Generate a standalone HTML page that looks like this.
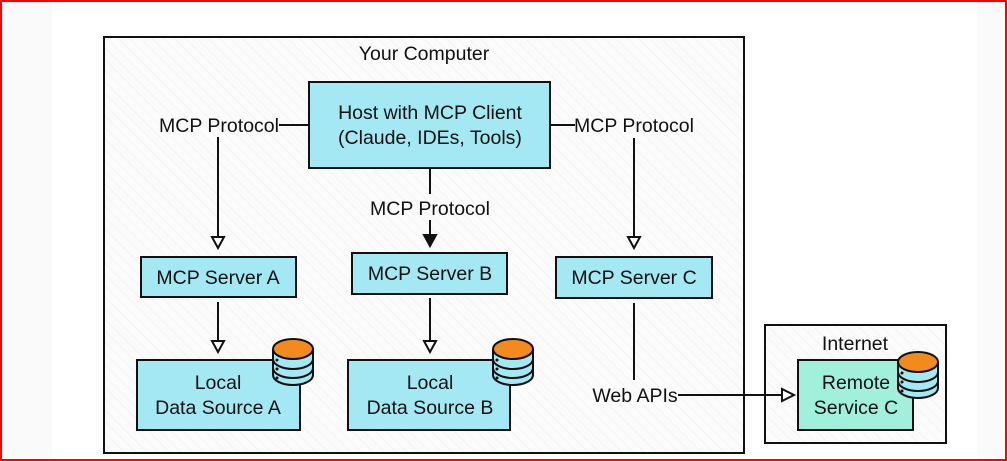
<!DOCTYPE html>
<html><head><meta charset="utf-8"><style>
html,body{margin:0;padding:0;background:#fff;}
svg{display:block;}
text{font-family:"Liberation Sans","DejaVu Sans",sans-serif;font-size:19.5px;fill:#111;}
</style></head><body>
<svg width="1007" height="461" viewBox="0 0 1007 461" xmlns="http://www.w3.org/2000/svg">
<defs>
<pattern id="h" width="8" height="8" patternUnits="userSpaceOnUse" patternTransform="rotate(-45)">
<rect width="8" height="8" fill="#fbfbfb"/><line x1="0" y1="0" x2="0" y2="8" stroke="#ececec" stroke-width="1"/>
</pattern>
<g id="db">
<path d="M0,10 L0,36 A20,10 0 0 0 40,36 L40,10" fill="#a3e8f2" stroke="#111" stroke-width="2"/>
<path d="M0,20 A20,10 0 0 0 40,20 M0,29 A20,10 0 0 0 40,29" fill="none" stroke="#111" stroke-width="2"/>
<ellipse cx="20" cy="10" rx="20" ry="10" fill="#f28a1e" stroke="#111" stroke-width="2"/>
<circle cx="4" cy="21" r="1.5" fill="#111"/><circle cx="4" cy="30" r="1.5" fill="#111"/><circle cx="4" cy="39" r="1.5" fill="#111"/>
</g>
</defs>
<rect x="0" y="0" width="1007" height="461" fill="#fff"/>
<rect x="0" y="0" width="52" height="461" fill="#fafafa"/>
<rect x="977" y="0" width="30" height="461" fill="#fafafa"/>
<rect x="1" y="1" width="1005" height="459" fill="none" stroke="#f00" stroke-width="2"/>

<rect x="104" y="37" width="640" height="416" fill="url(#h)" stroke="#111" stroke-width="2"/>
<text x="424" y="60" text-anchor="middle">Your Computer</text>

<rect x="309" y="82" width="241" height="86" fill="#a3e8f2" stroke="#111" stroke-width="2"/>
<text x="430" y="119" text-anchor="middle">Host with MCP Client</text>
<text x="430" y="144" text-anchor="middle">(Claude, IDEs, Tools)</text>

<rect x="765" y="325" width="181" height="118" fill="url(#h)" stroke="#111" stroke-width="2"/>

<g stroke="#111" stroke-width="2" fill="none">
<line x1="279" y1="125" x2="309" y2="125"/>
<line x1="218" y1="137" x2="218" y2="237"/>
<line x1="550" y1="125" x2="575" y2="125"/>
<line x1="634" y1="138" x2="634" y2="237"/>
<line x1="430" y1="168" x2="430" y2="194"/>
<line x1="430" y1="220" x2="430" y2="236"/>
<line x1="218" y1="302" x2="218" y2="341"/>
<line x1="430" y1="298" x2="430" y2="341"/>
<line x1="634" y1="303" x2="634" y2="380"/>
<line x1="678" y1="395" x2="782" y2="395"/>
</g>
<g stroke="#111" stroke-width="2" fill="#fff">
<path d="M212,237 L224,237 L218,248 Z"/>
<path d="M628,237 L640,237 L634,248 Z"/>
<path d="M212,341 L224,341 L218,352 Z"/>
<path d="M424,341 L436,341 L430,352 Z"/>
<path d="M782,389 L782,401 L794,395 Z"/>
<path d="M424,235 L436,235 L430,246 Z" fill="#111"/>
</g>
<text x="219" y="132" text-anchor="middle">MCP Protocol</text>
<text x="634" y="132" text-anchor="middle">MCP Protocol</text>
<text x="430" y="215" text-anchor="middle">MCP Protocol</text>

<rect x="141" y="257" width="155" height="40" fill="#a3e8f2" stroke="#111" stroke-width="2"/>
<text x="218" y="284" text-anchor="middle">MCP Server A</text>
<rect x="352" y="253" width="155" height="41" fill="#a3e8f2" stroke="#111" stroke-width="2"/>
<text x="430" y="280" text-anchor="middle">MCP Server B</text>
<rect x="556" y="257" width="156" height="41" fill="#a3e8f2" stroke="#111" stroke-width="2"/>
<text x="634" y="284" text-anchor="middle">MCP Server C</text>

<rect x="137" y="360" width="163" height="70" fill="#a3e8f2" stroke="#111" stroke-width="2"/>
<text x="218" y="389" text-anchor="middle">Local</text>
<text x="218" y="414" text-anchor="middle">Data Source A</text>
<use href="#db" x="273" y="339"/>
<rect x="348" y="360" width="162" height="70" fill="#a3e8f2" stroke="#111" stroke-width="2"/>
<text x="430" y="389" text-anchor="middle">Local</text>
<text x="430" y="414" text-anchor="middle">Data Source B</text>
<use href="#db" x="493" y="339"/>

<text x="635" y="402" text-anchor="middle">Web APIs</text>

<text x="855" y="350" text-anchor="middle">Internet</text>
<rect x="798" y="360" width="115" height="70" fill="#a0f0dc" stroke="#111" stroke-width="2"/>
<text x="856" y="389" text-anchor="middle">Remote</text>
<text x="856" y="414" text-anchor="middle">Service C</text>
<use href="#db" x="898" y="352"/>
</svg>
</body></html>
